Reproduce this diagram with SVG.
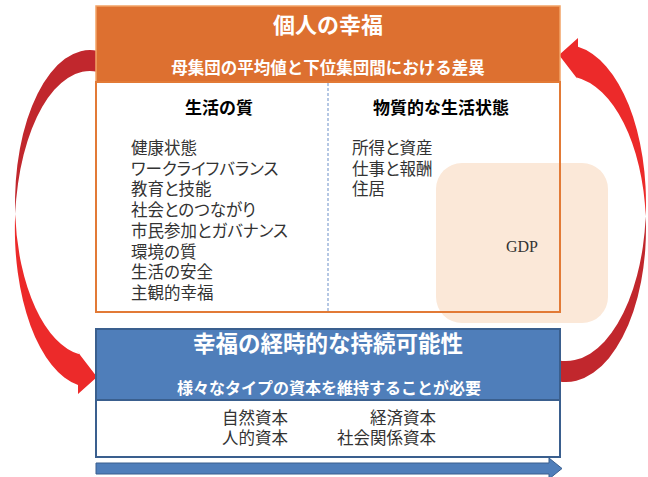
<svg xmlns="http://www.w3.org/2000/svg" width="648" height="477" viewBox="0 0 648 477">
<style>
.jp { font-family: "Noto Sans CJK JP", "Noto Sans CJK SC", sans-serif; }
.hdr { fill: #ffffff; font-weight: bold; text-anchor: middle; }
.sub { font-weight: bold; text-anchor: middle; fill: #000; font-size: 17px; }
.item { font-family: "Liberation Sans", "Noto Sans CJK JP", "Noto Sans CJK SC", sans-serif; font-size: 16.5px; fill: #333333; font-feature-settings: "palt"; }
.dark { fill: #C1272D; }
.bright { fill: #EC2A2A; }
</style>
<rect width="648" height="477" fill="#ffffff"/>

<g id="connectors">
  <g id="arrow-left">
    <path class="dark" d="M97,50.7 A75,153 0 0 0 15.2,213.9 A75,158 0 0 1 97,71.7 Z"/>
    <path class="bright" d="M15.2,213.9 A75,158 0 0 0 78,385 L78,394 L97,377 L77,351 L80,354.6 A75,153 0 0 1 15.2,213.9 Z"/>
  </g>
  <g id="arrow-right">
    <path class="dark" d="M559,381.4 A80,153 0 0 0 645.7,216.2 A80,158 0 0 1 559,360.4 Z"/>
    <path class="bright" d="M645.7,216.2 A80,158 0 0 0 578,46.8 L578,38 L559,55 L579,81 L576,77.2 A80,153 0 0 1 645.7,216.2 Z"/>
  </g>
</g>

<g id="gdp">
  <rect x="436" y="163" width="172" height="160" rx="26" ry="26" fill="#FBE8D8"/>
  <text x="522" y="252" text-anchor="middle" font-family="Liberation Serif, serif" font-size="16" fill="#333333">GDP</text>
</g>

<g id="wellbeing">
  <rect x="96" y="6" width="464" height="76" fill="#DD7030" stroke="#F2A366" stroke-width="1.5"/>
  <rect x="96" y="82" width="464" height="230" fill="none" stroke="#E27A36" stroke-width="2"/>
  <line x1="328" y1="83" x2="328" y2="311" stroke="#6A8FC8" stroke-width="1" stroke-dasharray="3,2"/>
  <text class="jp hdr" x="328" y="33" font-size="22">個人の幸福</text>
  <text class="jp hdr" x="328" y="74" font-size="16.5">母集団の平均値と下位集団間における差異</text>
  <text class="jp sub" x="219" y="114">生活の質</text>
  <text class="jp sub" x="441" y="114">物質的な生活状態</text>
  <g class="item">
    <text x="131" y="154">健康状態</text>
    <text x="131" y="174.7">ワークライフバランス</text>
    <text x="131" y="195.4">教育と技能</text>
    <text x="131" y="216.1">社会とのつながり</text>
    <text x="131" y="236.8">市民参加とガバナンス</text>
    <text x="131" y="257.5">環境の質</text>
    <text x="131" y="278.2">生活の安全</text>
    <text x="131" y="298.9">主観的幸福</text>
    <text x="352" y="154">所得と資産</text>
    <text x="352" y="174.7">仕事と報酬</text>
    <text x="352" y="195.4">住居</text>
  </g>
</g>

<g id="sustainability">
  <rect x="96" y="329" width="464" height="71" fill="#4F7EBA" stroke="#3A5F8E" stroke-width="2"/>
  <rect x="96" y="400" width="464" height="57" fill="#ffffff" stroke="#3A5F8E" stroke-width="2"/>
  <text class="jp hdr" x="328" y="352" font-size="22.5">幸福の経時的な持続可能性</text>
  <text class="jp hdr" x="329" y="394" font-size="16">様々なタイプの資本を維持することが必要</text>
  <g class="item">
    <text x="222" y="424">自然資本</text>
    <text x="222" y="444">人的資本</text>
    <text x="436" y="424" text-anchor="end">経済資本</text>
    <text x="436" y="444" text-anchor="end">社会関係資本</text>
  </g>
</g>

<g id="time-arrow">
  <path d="M96,463 H549 V458 L562,468.5 L549,479 V474 H96 Z" fill="#4F7EBA" stroke="#3A5F8E" stroke-width="1"/>
</g>
</svg>
